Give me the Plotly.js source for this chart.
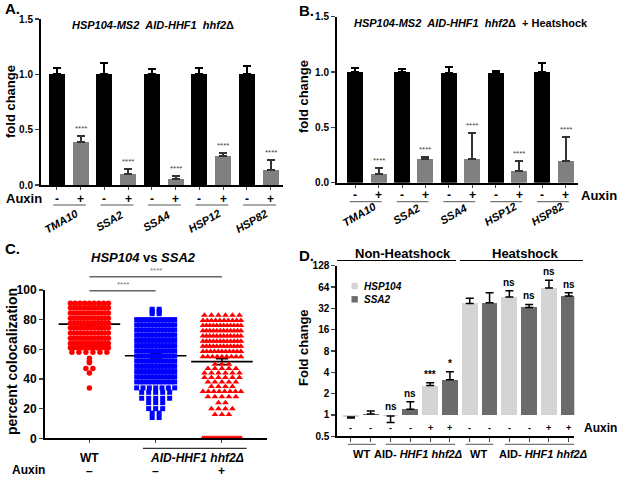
<!DOCTYPE html>
<html>
<head>
<meta charset="utf-8">
<script src="https://cdn.plot.ly/plotly-3.0.1.min.js"></script>
<style>body{margin:0;background:#fff} #graph{width:617px;height:478px}</style>
</head>
<body>
<div id="graph"></div>
<script>
'use strict';

// A and B: fold change, -auxin (black) and +auxin (gray) per gene
var genes = ['TMA10', 'SSA2', 'SSA4', 'HSP12', 'HSP82'];
var aMinus = [1.0, 1.0, 1.0, 1.0, 1.0];
var aMinusErr = [0.06, 0.105, 0.05, 0.057, 0.075];
var aPlus = [0.39, 0.10, 0.055, 0.26, 0.135];
var aPlusErr = [0.05, 0.045, 0.03, 0.03, 0.09];
var bMinus = [1.0, 1.0, 0.99, 0.99, 1.0];
var bMinusErr = [0.036, 0.025, 0.06, 0.015, 0.08];
var bPlus = [0.08, 0.21, 0.21, 0.11, 0.20];
var bPlusErr = [0.055, 0.02, 0.235, 0.09, 0.215];
var pairSigns = ['-', '+'];

// C: percent colocalization, value levels and how many cells sit on each
var cGroups = ['WT', 'AID-HHF1 hhf2\u0394 -', 'AID-HHF1 hhf2\u0394 +'];
var cAuxin = ['\u2013', '\u2013', '+'];
var wtLevels = [91, 88, 84.5, 81, 77.5, 74.5, 71, 67.5, 64, 61, 58, 54, 52, 51, 47, 44, 34];
var wtCounts = [9, 12, 13, 12, 12, 12, 12, 13, 12, 11, 6, 1, 1, 1, 2, 1, 1];
var minusLevels = [87, 85.5, 84, 80, 76.5, 73, 69.5, 66, 62.5, 59, 55.5, 52, 48.5, 45, 41.5, 38, 34, 31, 27, 24, 20, 17, 14];
var minusCounts = [2, 2, 2, 11, 12, 12, 12, 12, 12, 12, 13, 12, 12, 12, 12, 11, 7, 5, 5, 3, 3, 2, 2];
var plusLevels = [83, 79.5, 76, 72.5, 69, 65.5, 62, 58.5, 55, 50, 47, 44, 41, 38, 35, 31.5, 28, 24, 20, 16, 0];
var plusCounts = [6, 10, 12, 12, 12, 12, 12, 11, 9, 3, 5, 6, 6, 5, 4, 8, 5, 2, 4, 3, 20];
var cMeans = [77, 55.7, 51.7];
var cSem = [1.2, 1.5, 2.0];

// D: fold change (log2 axis), HSP104 and SSA2
var dConditions = ['WT', 'AID- HHF1 hhf2\u0394 -', 'AID- HHF1 hhf2\u0394 +', 'WT HS', 'AID- HHF1 hhf2\u0394 - HS', 'AID- HHF1 hhf2\u0394 + HS'];
var dAuxin = ['-', '-', '+', '-', '-', '+'];
var hsp104 = [0.94, 0.97, 2.6, 37.6, 46.2, 62];
var hsp104Sd = [0.03, 0.19, 0.26, 6.7, 10.6, 18];
var hsp104Sig = ['', 'ns', '***', '', 'ns', 'ns'];
var ssa2 = [1.03, 1.2, 3.15, 38.5, 33, 47.8];
var ssa2Sd = [0.11, 0.34, 0.94, 14.5, 3.4, 5.2];
var ssa2Sig = ['', 'ns', '*', '', 'ns', 'ns'];
var dTicks = [0.5, 1, 2, 4, 8, 16, 32, 64, 128];

var FONT = 'Liberation Sans, Arial, sans-serif';
var W = 617, H = 478;
function X(p) { return p / W; }
function Y(p) { return 1 - p / H; }

function note(text, x, y, o) {
  o = o || {};
  return {
    text: text, x: x, y: y,
    xref: o.xref || 'paper', yref: o.yref || 'paper',
    xanchor: o.xanchor || 'center', yanchor: o.yanchor || 'middle',
    xshift: o.xshift || 0, yshift: o.yshift || 0,
    textangle: o.angle || 0, showarrow: false,
    font: {family: FONT, size: o.size || 12, color: o.color || '#000', weight: o.weight || 'bold'}
  };
}
function hline(x0, x1, y, o) {
  o = o || {};
  return {type: 'line', xref: o.xref || 'paper', yref: o.yref || 'paper', x0: x0, x1: x1, y0: y, y1: y,
    line: {color: o.color || '#000', width: o.width || 1}};
}

var data = [];
var annotations = [];
var shapes = [];

// ---- A and B ----
function pairPanel(xr, yr, minus, minusErr, plus, plusErr, width, signY, lineY, lineL, lineR, geneY) {
  var xm = genes.map(function (g, i) { return 2 * i; });
  var xp = genes.map(function (g, i) { return 2 * i + 1; });
  data.push({type: 'bar', x: xm, y: minus, xaxis: xr, yaxis: yr, width: width,
    marker: {color: '#000'}, showlegend: false,
    error_y: {type: 'data', symmetric: false, array: minusErr, arrayminus: minus.map(function () { return 0; }),
      color: '#000', thickness: 2, width: 4}});
  data.push({type: 'bar', x: xp, y: plus, xaxis: xr, yaxis: yr, width: width,
    marker: {color: '#808080'}, showlegend: false,
    error_y: {type: 'data', symmetric: false, array: plusErr, arrayminus: plus.map(function () { return 0; }),
      color: '#333', thickness: 2, width: 4}});
  genes.forEach(function (g, i) {
    annotations.push(note('****', 2 * i + 1, plus[i] + plusErr[i],
      {xref: xr, yref: yr, yanchor: 'bottom', yshift: 1, size: 8, color: '#444', weight: 'normal'}));
    pairSigns.forEach(function (s, k) {
      annotations.push(note(s, 2 * i + k, Y(signY), {xref: xr, size: 12}));
    });
    shapes.push(hline(2 * i + lineL, 2 * i + lineR, Y(lineY), {xref: xr, color: '#555', width: 1}));
    annotations.push(note('<i>' + g + '</i>', 2 * i + 0.5, Y(geneY),
      {xref: xr, angle: -30, size: 11, xshift: -7}));
  });
}
pairPanel('x', 'y', aMinus, aMinusErr, aPlus, aPlusErr, 0.67, 198.5, 205, -0.16, 1.22, 221);
pairPanel('x2', 'y2', bMinus, bMinusErr, bPlus, bPlusErr, 0.68, 195, 201.7, -0.23, 1.13, 214);

// ---- C: swarm of colocalization values ----
function swarm(levels, counts, idx) {
  var xs = [], ys = [];
  levels.forEach(function (v, j) {
    var n = counts[j];
    var step = n > 1 ? Math.min(7, 38 / (n - 1)) / 66.3 : 0;
    for (var k = 0; k < n; k++) {
      xs.push(idx + (k - (n - 1) / 2) * step);
      ys.push(v);
    }
  });
  return {x: xs, y: ys};
}
data.push({type: 'scatter', mode: 'markers', x: [0, 1, 2], y: cMeans, xaxis: 'x3', yaxis: 'y3', showlegend: false,
  marker: {symbol: 'line-ew', size: 44, color: '#000', line: {color: '#000', width: 1.6}},
  error_y: {type: 'data', array: cSem, color: '#000', thickness: 1.5, width: 6}});
var sWt = swarm(wtLevels, wtCounts, 0);
var sMinus = swarm(minusLevels, minusCounts, 1);
var sPlus = swarm(plusLevels, plusCounts, 2);
data.push({type: 'scatter', mode: 'markers', x: sWt.x, y: sWt.y, xaxis: 'x3', yaxis: 'y3', showlegend: false,
  cliponaxis: false, marker: {symbol: 'circle', size: 5.5, color: '#ff0000'}});
data.push({type: 'scatter', mode: 'markers', x: sMinus.x, y: sMinus.y, xaxis: 'x3', yaxis: 'y3', showlegend: false,
  cliponaxis: false, marker: {symbol: 'square', size: 5, color: '#0000ff'}});
data.push({type: 'scatter', mode: 'markers', x: sPlus.x, y: sPlus.y, xaxis: 'x3', yaxis: 'y3', showlegend: false,
  cliponaxis: false, marker: {symbol: 'triangle-up', size: 6, color: '#ff0000'}});

// ---- D: log2 bars rising from 1 ----
var LIGHT = '#d4d4d4', DARK = '#6b6b6b';
function dBars(vals, sds, offset, color, sig) {
  var xs = vals.map(function (v, i) { return 2 * i + offset; });
  data.push({type: 'bar', x: xs, y: vals.map(function (v) { return v - 1; }), base: 1, width: 0.8,
    xaxis: 'x4', yaxis: 'y4', marker: {color: color}, showlegend: false});
  data.push({type: 'scatter', mode: 'markers', x: xs, y: vals, xaxis: 'x4', yaxis: 'y4', showlegend: false,
    marker: {size: 1, opacity: 0},
    error_y: {type: 'data', symmetric: false,
      array: vals.map(function (v, i) { return v >= 1 ? sds[i] : 0; }),
      arrayminus: vals.map(function (v, i) { return v < 1 ? sds[i] : 0; }),
      color: '#000', thickness: 1.5, width: 4}});
  vals.forEach(function (v, i) {
    if (sig[i]) {
      var top = v >= 1 ? v + sds[i] : 1;
      annotations.push(note(sig[i], xs[i], Math.log10(top), {xref: 'x4', yref: 'y4', yanchor: 'bottom', yshift: 1, size: 10}));
    }
    annotations.push(note(dAuxin[i], xs[i], Y(428), {xref: 'x4', size: 9}));
  });
}
dBars(hsp104, hsp104Sd, 0, LIGHT, hsp104Sig);
dBars(ssa2, ssa2Sd, 1, DARK, ssa2Sig);
shapes.push({type: 'line', xref: 'x4 domain', yref: 'y4', x0: 0, x1: 1, y0: 0, y1: 0, line: {color: '#000', width: 1.5}});

// ---- axes ----
function barX(dom, range, n) {
  var v = []; for (var i = 0; i < n; i++) v.push(i);
  return {domain: dom, range: range, showline: true, linewidth: 2, linecolor: '#000', ticks: 'outside',
    tickvals: v, ticklen: 3, tickwidth: 1, showticklabels: false, showgrid: false, zeroline: false, fixedrange: true};
}
function valY(dom, range, vals, text, size) {
  return {domain: dom, range: range, tickvals: vals, ticktext: text, showline: true, linewidth: 2, linecolor: '#000',
    ticks: 'outside', ticklen: 4, tickwidth: 1.5, showgrid: false, zeroline: false,
    tickfont: {family: FONT, size: size, weight: 'bold', color: '#000'}};
}
var layout = {
  width: W, height: H, margin: {l: 0, r: 0, t: 0, b: 0},
  paper_bgcolor: '#fff', plot_bgcolor: 'rgba(0,0,0,0)', showlegend: false, bargap: 0,
  xaxis: Object.assign(barX([X(41), X(283)], [-0.67, 9.52], 10), {anchor: 'y'}),
  yaxis: Object.assign(valY([Y(185), Y(19)], [0, 1.5], [0, 0.5, 1, 1.5], ['0.0', '0.5', '1.0', '1.5'], 10), {anchor: 'x'}),
  xaxis2: Object.assign(barX([X(337), X(578)], [-0.78, 9.52], 10), {anchor: 'y2'}),
  yaxis2: Object.assign(valY([Y(182.7), Y(16.7)], [0, 1.5], [0, 0.5, 1, 1.5], ['0.0', '0.5', '1.0', '1.5'], 10), {anchor: 'x2'}),
  xaxis3: Object.assign(barX([X(45), X(267)], [-0.67, 2.68], 3), {anchor: 'y3'}),
  yaxis3: Object.assign(valY([Y(438.3), Y(290)], [0, 100], [0, 20, 40, 60, 80, 100], ['0', '20', '40', '60', '80', '100'], 12), {anchor: 'x3'}),
  xaxis4: Object.assign(barX([X(337.3), X(574.3)], [-0.69, 11.28], 12), {anchor: 'y4', ticklen: 4}),
  yaxis4: Object.assign(valY([Y(436.3), Y(265.7)], [Math.log10(0.5), Math.log10(128)], dTicks,
    dTicks.map(String), 10), {anchor: 'x4', type: 'log'}),
  shapes: shapes,
  annotations: annotations
};

// A titles
annotations.push(note('A.', X(3), Y(8), {xanchor: 'left', size: 15}));
annotations.push(note('<i>HSP104-MS2\u00a0\u00a0AID-HHF1\u00a0\u00a0hhf2</i>\u0394', X(153), Y(25), {size: 11}));
annotations.push(note('fold change', X(11), Y(102), {angle: -90, size: 13}));
annotations.push(note('Auxin', X(24), Y(198.5), {size: 13}));
// B titles
annotations.push(note('B.', X(297), Y(10), {xanchor: 'left', size: 15}));
annotations.push(note('<i>HSP104-MS2\u00a0\u00a0AID-HHF1\u00a0\u00a0hhf2</i>\u0394\u00a0\u00a0+ Heatshock', X(471), Y(23), {size: 11}));
annotations.push(note('fold change', X(303), Y(97), {angle: -90, size: 13}));
annotations.push(note('Auxin', X(599), Y(195), {size: 13}));
// C titles
annotations.push(note('C.', X(3), Y(248), {xanchor: 'left', size: 15}));
annotations.push(note('<i>HSP104</i> vs <i>SSA2</i>', X(143), Y(257), {size: 13}));
annotations.push(note('percent colocalization', X(12), Y(362), {angle: -90, size: 14}));
shapes.push(hline(0, 2, Y(276.7), {xref: 'x3', color: '#666', width: 1.5}));
shapes.push(hline(0, 1, Y(290.7), {xref: 'x3', color: '#666', width: 1.5}));
annotations.push(note('****', 1, Y(276.7), {xref: 'x3', yanchor: 'bottom', size: 8, color: '#777', weight: 'normal'}));
annotations.push(note('****', 0.5, Y(290.7), {xref: 'x3', yanchor: 'bottom', size: 8, color: '#777', weight: 'normal'}));
annotations.push(note(cGroups[0], 0, Y(458), {xref: 'x3', size: 12}));
annotations.push(note('<i>AID-HHF1 hhf2\u0394</i>', X(196.7), Y(458), {size: 12}));
shapes.push(hline(X(143), X(246.7), Y(448.3), {width: 1}));
annotations.push(note('Auxin', X(28), Y(470), {size: 12}));
cAuxin.forEach(function (s, i) { annotations.push(note(s, i, Y(471), {xref: 'x3', size: 12})); });
// D titles
annotations.push(note('D.', X(297), Y(255), {xanchor: 'left', size: 15}));
annotations.push(note('Fold change', X(303), Y(348), {angle: -90, size: 13}));
annotations.push(note('Non-Heatshock', X(403), Y(253), {size: 13}));
annotations.push(note('Heatshock', X(525), Y(253), {size: 13}));
shapes.push(hline(X(337), X(456), Y(260.5), {width: 1.2}));
shapes.push(hline(X(460), X(583), Y(260.5), {width: 1.2}));
annotations.push(note('Auxin', X(600), Y(428), {size: 12}));
[['WT', 361.7, 347.7, 375.7], ['AID- <i>HHF1 hhf2\u0394</i>', 418.3, 385.7, 455],
 ['WT', 478, 465.7, 493.3], ['AID- <i>HHF1 hhf2\u0394</i>', 543.3, 505, 574.3]].forEach(function (g) {
  annotations.push(note(g[0], X(g[1]), Y(453.5), {size: 11}));
  shapes.push(hline(X(g[2]), X(g[3]), Y(444.3), {color: '#555', width: 1}));
});
// D legend
[['HSP104', LIGHT, 286], ['SSA2', DARK, 299.3]].forEach(function (l) {
  shapes.push({type: 'rect', xref: 'paper', yref: 'paper', x0: X(351.5), x1: X(357.8), y0: Y(l[2] + 3.2), y1: Y(l[2] - 3.2),
    fillcolor: l[1], line: {width: 0}});
  annotations.push(note('<i>' + l[0] + '</i>', X(361.5), Y(l[2]), {xanchor: 'left', size: 10}));
});

Plotly.newPlot('graph', data, layout, {staticPlot: true});
</script>
</body>
</html>
